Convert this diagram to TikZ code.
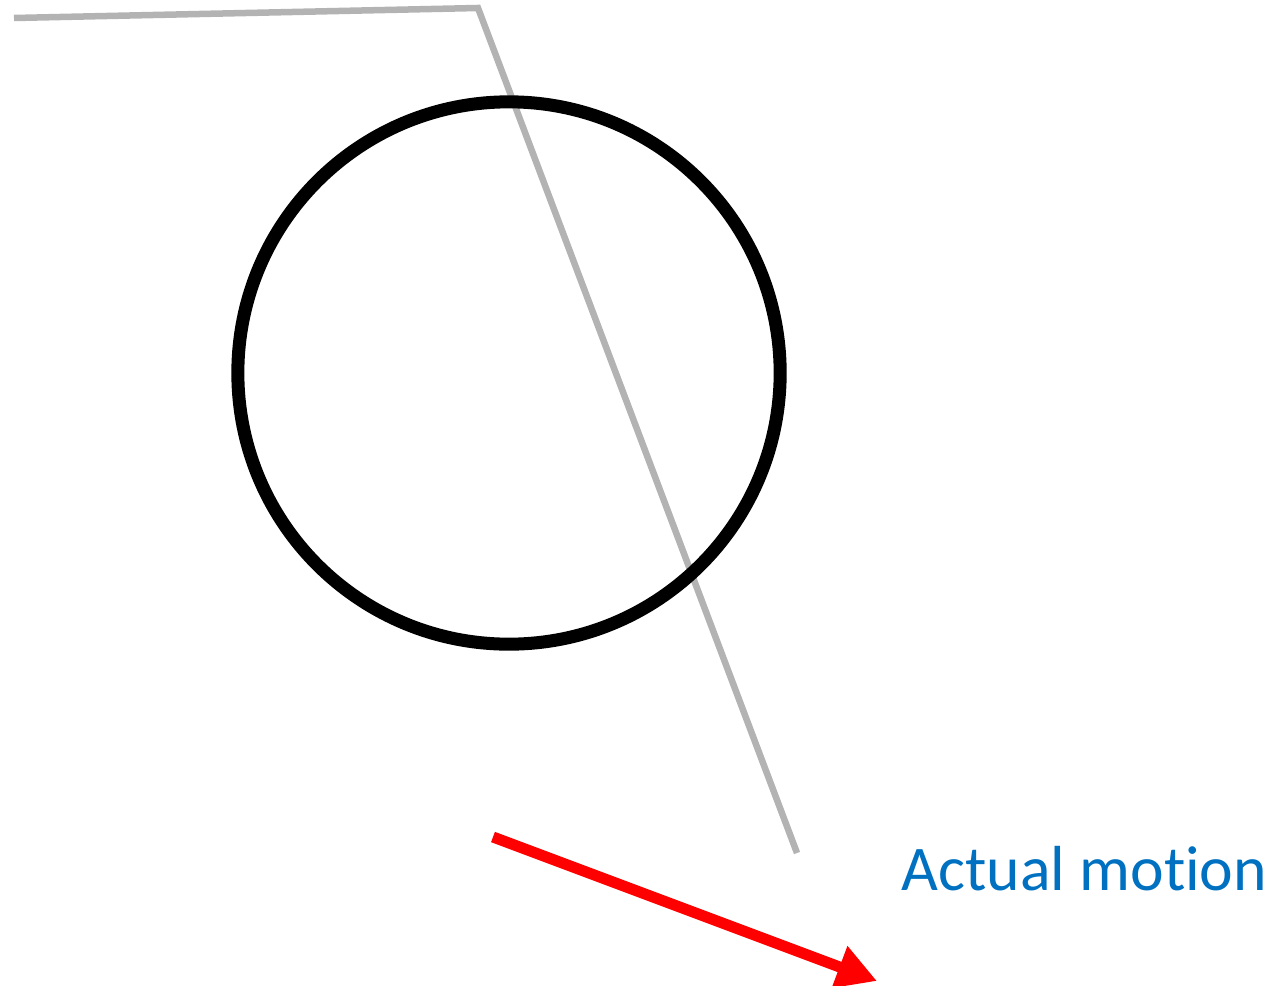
\documentclass[tikz,border=0pt]{standalone}
\usepackage{fontspec}
\newfontfamily\motionfont[Ligatures=NoCommon]{Carlito}
\usepackage{tikz}
\usetikzlibrary{positioning,arrows.meta,calc}
\usepackage{xcolor}
\definecolor{ropegray}{HTML}{B3B3B3}
\definecolor{motionblue}{HTML}{0070C0}

\begin{document}
\begin{tikzpicture}[
  x=0.01cm,y=-0.01cm,
  rope/.style={ropegray,line width=0.065cm,line join=miter},
  wheelring/.style={circle,draw=black,line width=0.13cm,minimum size=5.42cm,inner sep=0pt},
  motion/.style={red,line width=0.11cm,-{Triangle[length=0.4cm,width=0.42cm]}},
  motionlabel/.style={motionblue,font=\motionfont\fontsize{18.1}{20}\selectfont,anchor=base west,inner sep=0pt}
]
\useasboundingbox (0,0) rectangle (1274,985);
% rope over the wheel
\coordinate (ropeL) at (14,18);
\coordinate (ropeK) at (478,8);
\coordinate (ropeE) at (797,853);
\draw[rope] (ropeL) -- (ropeK) -- (ropeE);
% the wheel
\node[wheelring] (wheel) at (509,373) {};
% direction of travel
\coordinate (mvS) at (493,837);
\coordinate (mvE) at (877,981);
\draw[motion] (mvS) -- (mvE);
\node[motionlabel] (mvlabel) at (901,890) {Actual motion};
\end{tikzpicture}
\end{document}
